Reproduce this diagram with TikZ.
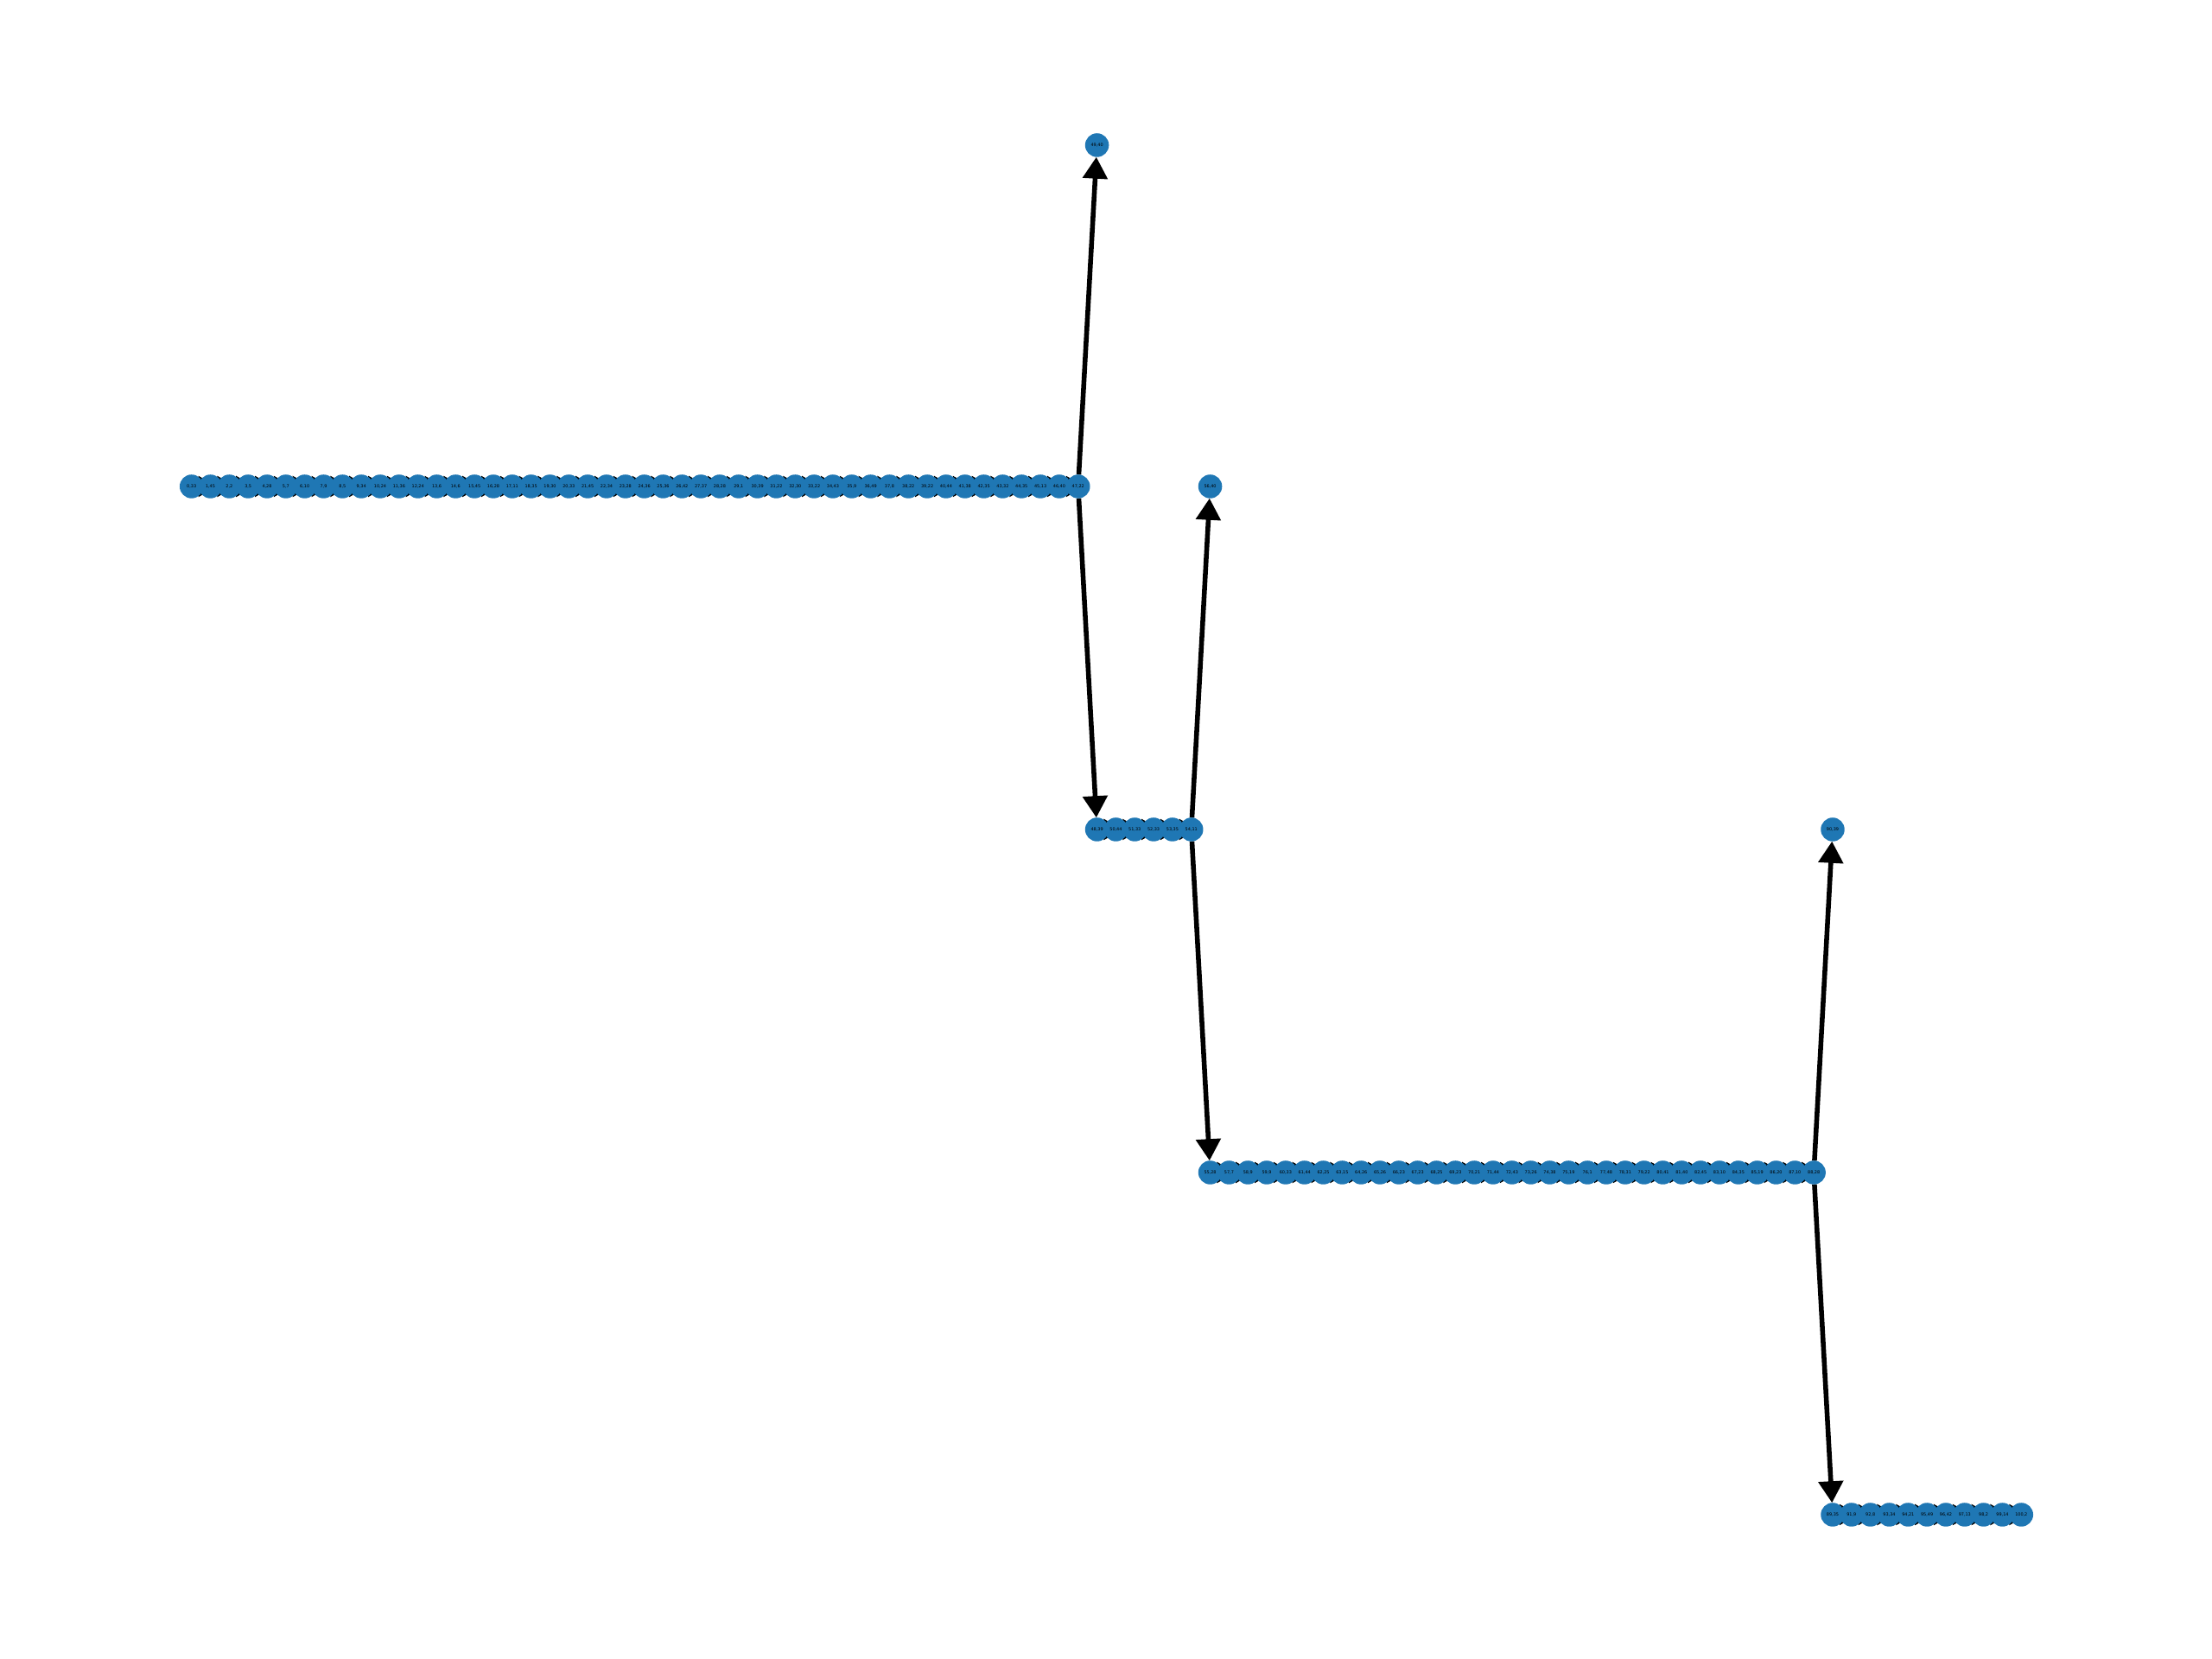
\documentclass[tikz,border=0pt]{standalone}
\usepackage{fontspec}
\setmainfont{DejaVu Sans}
\usetikzlibrary{arrows.meta,calc}
\definecolor{nxblue}{HTML}{1F77B4}
\pgfdeclarelayer{back}
\pgfdeclarelayer{bg}
\pgfsetlayers{back,bg,main}
\begin{document}
\begin{tikzpicture}[
 vtx/.style={circle, fill=nxblue, minimum size=0.275cm, inner sep=0pt, outer sep=0pt,
   font=\fontsize{1.4pt}{1.7pt}\selectfont, text=black},
 edge/.style={line width=1.58pt, -{Triangle[length=0.25cm,width=0.28cm]}},
 tick/.style={fill=black}
]
\begin{pgfonlayer}{back}
\fill[white] (0,0) rectangle (25.6,19.2);
\end{pgfonlayer}
\useasboundingbox (0,0) rectangle (25.6,19.2);
% row 1
\foreach \k/\lab in {0/{0,33},1/{1,45},2/{2,2},3/{3,5},4/{4,28},5/{5,7},6/{6,10},7/{7,9},8/{8,5},9/{9,34},
 10/{10,24},11/{11,36},12/{12,24},13/{13,6},14/{14,6},15/{15,45},16/{16,28},17/{17,11},18/{18,35},19/{19,30},
 20/{20,33},21/{21,45},22/{22,34},23/{23,28},24/{24,36},25/{25,36},26/{26,42},27/{27,37},28/{28,28},29/{29,1},
 30/{30,39},31/{31,22},32/{32,30},33/{33,22},34/{34,43},35/{35,9},36/{36,49},37/{37,8},38/{38,22},39/{39,22},
 40/{40,44},41/{41,38},42/{42,35},43/{43,32},44/{44,35},45/{45,13},46/{46,40},47/{47,22}}
 {\node[vtx] (n\k) at ({2.217+\k*0.2183},13.57) {\lab};}
% row 2
\foreach \k/\lab in {48/{48,39},49/{50,44},50/{51,33},51/{52,33},52/{53,35},53/{54,11}}
 {\node[vtx] (n\k) at ({2.217+\k*0.2183},9.60) {\lab};}
% row 3
\foreach \k/\lab in {54/{55,28},55/{57,7},56/{58,9},57/{59,9},58/{60,33},59/{61,44},60/{62,25},61/{63,15},
 62/{64,26},63/{65,26},64/{66,23},65/{67,23},66/{68,25},67/{69,23},68/{70,21},69/{71,44},70/{72,43},71/{73,26},
 72/{74,38},73/{75,19},74/{76,1},75/{77,48},76/{78,31},77/{79,22},78/{80,41},79/{81,40},80/{82,45},81/{83,10},
 82/{84,35},83/{85,19},84/{86,20},85/{87,10},86/{88,28}}
 {\node[vtx] (n\k) at ({2.217+\k*0.2183},5.63) {\lab};}
% row 4
\foreach \k/\lab in {87/{89,35},88/{91,9},89/{92,8},90/{93,34},91/{94,21},92/{95,49},93/{96,42},94/{97,13},
 95/{98,2},96/{99,14},97/{100,2}}
 {\node[vtx] (n\k) at ({2.217+\k*0.2183},1.67) {\lab};}
% branch nodes
\node[vtx] (t1) at ({2.217+48*0.2183},17.52) {49,40};
\node[vtx] (t2) at ({2.217+54*0.2183},13.57) {56,40};
\node[vtx] (t3) at ({2.217+87*0.2183},9.60) {90,39};

\begin{pgfonlayer}{bg}
 \foreach \j in {1,...,47,49,50,51,52,53,55,56,...,86,88,89,...,97}
  {\fill[tick] ($(n\j.center)+(-0.14,0.123)$) -- ($(n\j.center)+(-0.14,-0.123)$) -- ($(n\j.center)+(0.08,0)$) -- cycle;}
 \draw[edge] (n47) -- (t1);
 \draw[edge] (n47) -- (n48);
 \draw[edge] (n53) -- (t2);
 \draw[edge] (n53) -- (n54);
 \draw[edge] (n86) -- (t3);
 \draw[edge] (n86) -- (n87);
\end{pgfonlayer}
\end{tikzpicture}
\end{document}
